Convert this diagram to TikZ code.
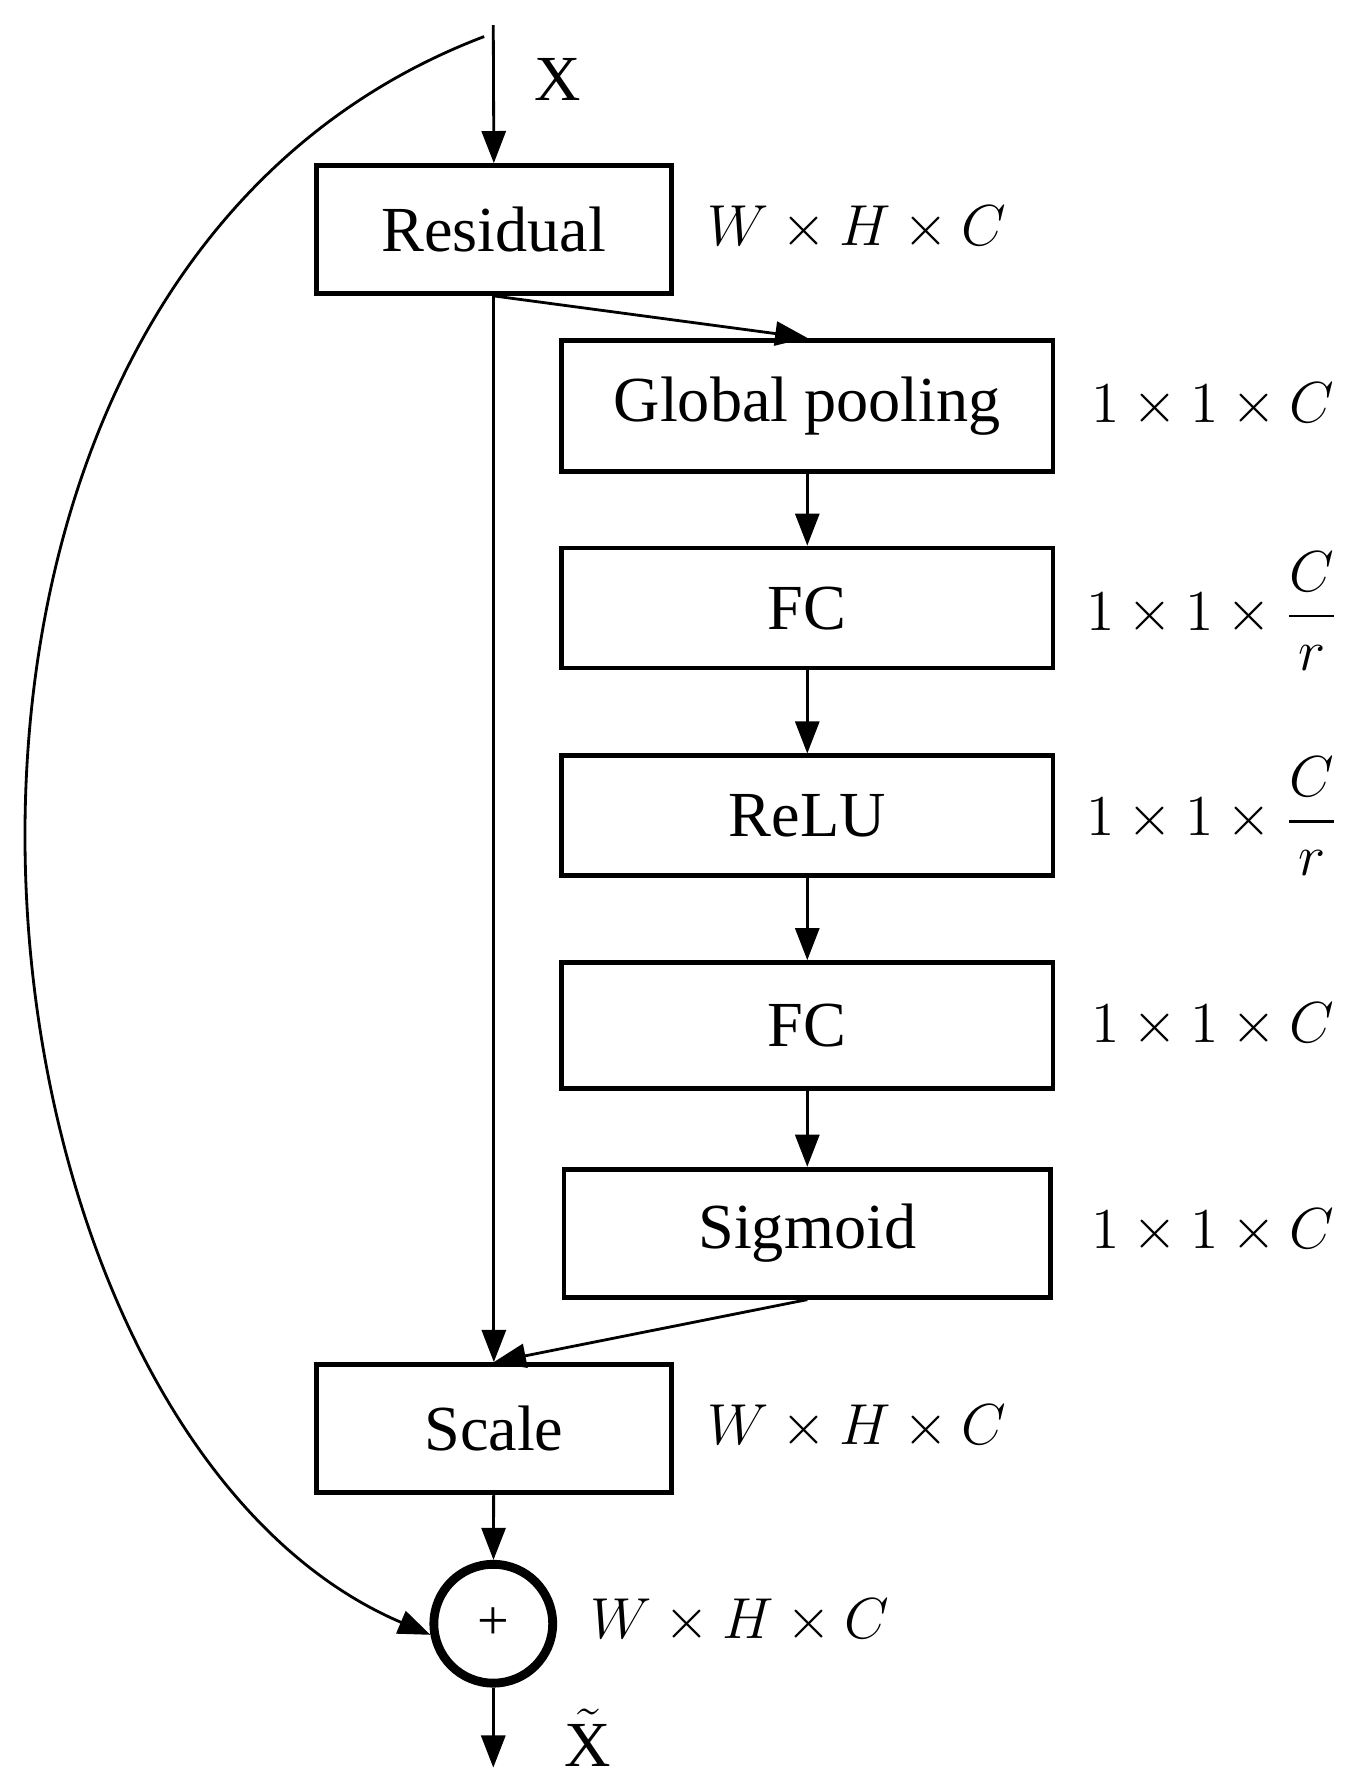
\documentclass[tikz,border=0pt]{standalone}
\usepackage{amsmath}
\usepackage{fontspec}
\setmainfont{Liberation Serif}
\usetikzlibrary{arrows.meta}
\begin{document}
\begin{tikzpicture}[x=0.01cm,y=-0.01cm,
  box/.style={draw,line width=1.2pt,inner sep=0pt,font=\fontsize{16}{19}\selectfont},
  lab/.style={font=\fontsize{13.5}{16}\selectfont},
  arr/.style={-{Triangle[length=8pt,width=6pt]},line width=0.7pt}]
\useasboundingbox (0,0) rectangle (1185,1565);
\node[box,minimum width=3.11cm,minimum height=1.12cm] (res) at (432.5,201) {Residual};
\node[box,minimum width=4.3cm,minimum height=1.15cm] (gp) at (707,355.5) {Global\ pooling};
\node[box,minimum width=4.3cm,minimum height=1.05cm] (fc1) at (707,532.5) {FC};
\node[box,minimum width=4.3cm,minimum height=1.05cm] (relu) at (707,714.5) {ReLU};
\node[box,minimum width=4.3cm,minimum height=1.1cm] (fc2) at (707,898) {FC};
\node[box,minimum width=4.26cm,minimum height=1.12cm] (sig) at (707,1080) {Sigmoid};
\node[box,minimum width=3.11cm,minimum height=1.12cm] (scale) at (432.5,1251) {Scale};
\node[draw,circle,line width=2.2pt,minimum size=1.04cm,inner sep=0pt,font=\fontsize{14}{16}\selectfont] (plus) at (432,1422) {+};
\coordinate (top) at (432,22);
\coordinate (out) at (432,1548);
\node[box,draw=none] at (488,70) {X};
\node[box,draw=none] at (515,1522) {$\tilde{\mathrm{X}}$};
\node[lab] at (750,200) {$W\times H\times C$};
\node[lab] at (750,1250) {$W\times H\times C$};
\node[lab] at (648,1420) {$W\times H\times C$};
\node[lab] at (1062,355) {$1\times 1\times C$};
\node[lab] at (1062,535) {$1\times 1\times \dfrac{C}{r}$};
\node[lab] at (1062,715) {$1\times 1\times \dfrac{C}{r}$};
\node[lab] at (1062,898) {$1\times 1\times C$};
\node[lab] at (1062,1078) {$1\times 1\times C$};
\draw[arr] (top) -- (res.north);
\draw[arr] (res.south) -- (gp.north);
\draw[arr] (gp) -- (fc1);
\draw[arr] (fc1) -- (relu);
\draw[arr] (relu) -- (fc2);
\draw[arr] (fc2) -- (sig);
\draw[arr] (res.south) -- (scale.north);
\draw[arr] (sig.south) -- (scale.north);
\draw[arr] (scale) -- (plus);
\draw[arr] (plus) -- (out);
\draw[arr] (424,32) .. controls (-150,250) and (-50,1250) .. (plus.190);
\end{tikzpicture}
\end{document}
